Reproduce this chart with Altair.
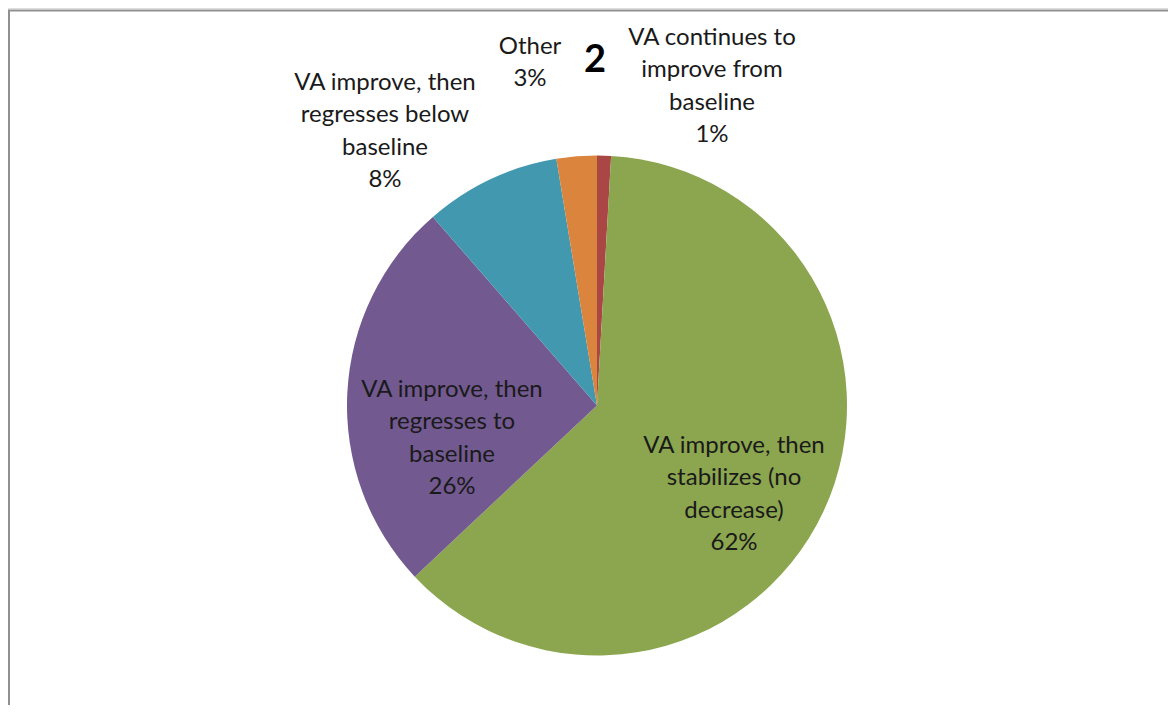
import altair as alt
import pandas as pd

# data (clockwise from 12 o'clock)
categories = [
    "VA continues to improve from baseline",
    "VA improve, then stabilizes (no decrease)",
    "VA improve, then regresses to baseline",
    "VA improve, then regresses below baseline",
    "Other",
]
values = [0.9, 62.1, 25.6, 8.8, 2.6]
colors = ["#AA4643", "#8BA64F", "#725990", "#4298AF", "#DB843D"]

label_text = [
    "VA continues to\nimprove from\nbaseline\n1%",
    "VA improve, then\nstabilizes (no\ndecrease)\n62%",
    "VA improve, then\nregresses to\nbaseline\n26%",
    "VA improve, then\nregresses below\nbaseline\n8%",
    "Other\n3%",
]
# layout (chart pixel positions: block centre x, first line y)
label_x = [704, 726, 444, 377, 522]
label_y = [30, 438, 382, 75, 39]

W, H = 1160, 697
CX, CY, R = 589, 397.5, 250

df = pd.DataFrame({"cat": categories, "value": values, "idx": list(range(5))})
lab = pd.DataFrame({"text": label_text, "x": label_x, "y": label_y})

pie = alt.Chart(df).mark_arc(radius=R).encode(
    theta=alt.Theta("value:Q", stack=True),
    order=alt.Order("idx:Q"),
    color=alt.Color("cat:N", scale=alt.Scale(domain=categories, range=colors), legend=None),
    x=alt.value(CX),
    y=alt.value(CY),
)

labels = alt.Chart(lab).mark_text(
    font="Lato", fontSize=24, lineHeight=32.3, lineBreak="\n",
    align="center", baseline="middle", color="#1a1a1a"
).encode(
    x=alt.X("x:Q", scale=alt.Scale(domain=[0, W], range=[0, W]), axis=None),
    y=alt.Y("y:Q", scale=alt.Scale(domain=[0, H], range=[0, H]), axis=None),
    text="text:N",
)

title = alt.Chart(pd.DataFrame({"t": ["2"]})).mark_text(
    font="Lato", fontSize=38, fontWeight="bold", align="center", baseline="middle", color="#000000"
).encode(x=alt.value(587), y=alt.value(53), text="t:N")

left_border = alt.Chart(pd.DataFrame({"a": [0]})).mark_rule(color="#909090", strokeWidth=2).encode(
    x=alt.value(1), y=alt.value(2), y2=alt.value(H + 10)
)
top_border = alt.Chart(pd.DataFrame({"a": [0]})).mark_rule(color="#909090", strokeWidth=2).encode(
    x=alt.value(0), x2=alt.value(W), y=alt.value(2.6)
)

chart = alt.layer(pie, labels, title, left_border, top_border).properties(
    width=W, height=H, autosize=alt.AutoSizeParams(type="none"), padding=0
).configure_view(stroke=None).configure(background="white")

chart.save("out.html", embed_options={"renderer": "svg", "actions": False})
